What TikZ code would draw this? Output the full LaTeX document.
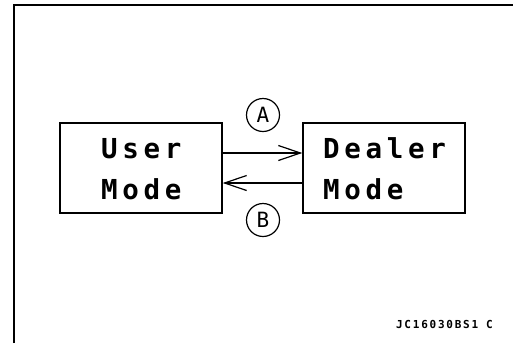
\documentclass[tikz,border=0pt]{standalone}
\usepackage{fontspec}
\usetikzlibrary{arrows.meta}
\newfontfamily\gothfont[LetterSpace=17]{DejaVu Sans Mono}
\newfontfamily\codefont[LetterSpace=16]{DejaVu Sans Mono}

\begin{document}
\begin{tikzpicture}[x=1bp,y=-1bp,>={Straight Barb[length=22bp,width=15bp]},line cap=round,
  modebox/.style={draw,line width=1.5bp,minimum width=162bp,minimum height=90bp,inner sep=0pt},
  modetext/.style={font=\gothfont\bfseries\fontsize{27.5bp}{41bp}\selectfont,anchor=base west,inner sep=0pt},
  tag/.style={draw,circle,line width=1.2bp,minimum size=33bp,inner sep=0pt,font=\gothfont\fontsize{21bp}{21bp}\selectfont}]
\useasboundingbox (0,0) rectangle (513,343);
\draw[line width=2bp,line cap=butt] (13.5,343) -- (13.5,4.5) -- (513,4.5);
% the two modes
\node[modebox] (user) at (141,168) {};
\node[modebox] (dealer) at (384,168) {};
\node[modetext] (usertop) at (101,158) {User};
\node[modetext] (userbot) at (101,199) {Mode};
\node[modetext] (dealertop) at (323,158) {Dealer};
\node[modetext] (dealerbot) at (323,199) {Mode};
% switching
\draw[->,line width=1.2bp] ([yshift=15bp]user.east) -- ([yshift=15bp]dealer.west);
\draw[->,line width=1.2bp] ([yshift=-15bp]dealer.west) -- ([yshift=-15bp]user.east);
\node[tag] (a) at (263,115) {A};
\node[tag] (b) at (263,220) {B};
\node[font=\codefont\bfseries\fontsize{11bp}{11bp}\selectfont,anchor=base east,inner sep=0pt] (code) at (493,328) {JC16030BS1\hspace{8bp}C};
\end{tikzpicture}
\end{document}
